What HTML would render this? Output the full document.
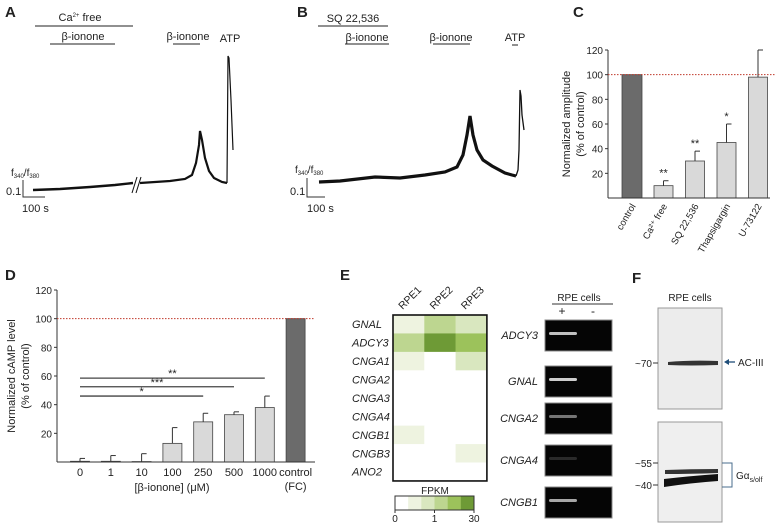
<!DOCTYPE html>
<html><head><meta charset="utf-8"><style>
body{margin:0;background:#fff}
svg{display:block;font-family:"Liberation Sans",sans-serif;fill:#222}
.it{font-style:italic}
</style></head><body>
<svg id="fig" width="775" height="525" viewBox="0 0 775 525">
<!-- Panel A -->
<g font-size="11">
<text x="5" y="17" font-size="15" font-weight="bold">A</text>
<text x="80" y="21" text-anchor="middle">Ca<tspan font-size="6" dy="-4">2+</tspan><tspan dy="4"> free</tspan></text>
<line x1="35" y1="26" x2="133" y2="26" stroke="#222"/>
<text x="83" y="40" text-anchor="middle">β-ionone</text>
<line x1="50" y1="44" x2="115" y2="44" stroke="#222"/>
<text x="188" y="40" text-anchor="middle">β-ionone</text>
<line x1="173" y1="44" x2="200" y2="44" stroke="#222"/>
<text x="230" y="42" text-anchor="middle">ATP</text>
<polyline fill="none" stroke="#111" stroke-width="2.4" points="33,190 60,189 90,187 115,185 133,183"/>
<polyline fill="none" stroke="#111" stroke-width="2.2" points="140,183 170,181 185,179 192,175 196,163 199,145 200,131 202,140 205,158 209,171 214,178 222,182 227,183"/>
<polyline fill="none" stroke="#111" stroke-width="1.2" points="227,183 228,56 229,58 231,100 233,150"/>
<line x1="132" y1="193" x2="137" y2="177" stroke="#111"/>
<line x1="136" y1="193" x2="141" y2="177" stroke="#111"/>
<polyline fill="none" stroke="#333" points="23,180 23,197 45,197"/>
<text x="11" y="176" font-size="10">f<tspan font-size="6" dy="2">340</tspan><tspan dy="-2">/f</tspan><tspan font-size="6" dy="2">380</tspan></text>
<text x="6" y="195">0.1</text>
<text x="22" y="212">100 s</text>
</g>
<!-- Panel B -->
<g font-size="11">
<text x="297" y="17" font-size="15" font-weight="bold">B</text>
<text x="353" y="22" text-anchor="middle">SQ 22,536</text>
<line x1="318" y1="26" x2="388" y2="26" stroke="#222"/>
<text x="367" y="41" text-anchor="middle">β-ionone</text>
<line x1="345" y1="44" x2="389" y2="44" stroke="#222"/>
<text x="451" y="41" text-anchor="middle">β-ionone</text>
<line x1="433" y1="44" x2="470" y2="44" stroke="#222"/>
<text x="515" y="41" text-anchor="middle">ATP</text>
<line x1="512" y1="45" x2="518" y2="45" stroke="#222"/>
<polyline fill="none" stroke="#111" stroke-width="3.2" points="319,182 340,181 375,177 400,178 425,175 445,172 457,167 463,155 467,135 470,116 473,135 477,150 483,160 492,166 505,173 512,175 516,176"/>
<polyline fill="none" stroke="#111" stroke-width="1.3" points="516,176 518,170 519,150 520,90 521,96 522,115 524,130"/>
<polyline fill="none" stroke="#333" points="307,178 307,197 325,197"/>
<text x="295" y="173" font-size="10">f<tspan font-size="6" dy="2">340</tspan><tspan dy="-2">/f</tspan><tspan font-size="6" dy="2">380</tspan></text>
<text x="290" y="195">0.1</text>
<text x="307" y="212">100 s</text>
</g>
<g id="panelC" font-size="10"></g>
<g id="panelD" font-size="10"></g>
<g id="panelE" font-size="10"></g>
<!-- Panel F -->
<g font-size="10">
<text x="632" y="283" font-size="15" font-weight="bold">F</text>
<text x="690" y="301" text-anchor="middle">RPE cells</text>
<rect x="658" y="308" width="64" height="101" fill="#ececec" stroke="#999"/>
<path d="M668,362 Q690,360 718,361 L718,365 Q690,366 668,365Z" fill="#333"/>
<rect x="658" y="422" width="64" height="100" fill="#efefef" stroke="#999"/>
<path d="M665,470 Q690,469 718,469 L718,473 Q690,474 665,474Z" fill="#333"/>
<path d="M664,479 Q690,476 718,474 L718,481 Q690,483 664,487Z" fill="#111"/>
<text x="652" y="367" text-anchor="end">~70</text>
<line x1="653" y1="363" x2="658" y2="363" stroke="#333"/>
<text x="652" y="467" text-anchor="end">~55</text>
<line x1="653" y1="463" x2="658" y2="463" stroke="#333"/>
<text x="652" y="489" text-anchor="end">~40</text>
<line x1="653" y1="485" x2="658" y2="485" stroke="#333"/>
<line x1="726" y1="362" x2="735" y2="362" stroke="#1f4e79" stroke-width="1.3"/>
<path d="M724,362 L729,359 L729,365Z" fill="#1f4e79"/>
<text x="738" y="366">AC-III</text>
<polyline points="722,463 732,463 732,487 722,487" fill="none" stroke="#4a6d8c"/>
<text x="736" y="479">Gα<tspan font-size="7" dy="3">s/olf</tspan></text>
</g>
<script>
const NS="http://www.w3.org/2000/svg";
function mk(p,tag,at,txt){const e=document.createElementNS(NS,tag);for(const k in at)e.setAttribute(k,at[k]);if(txt!==undefined)e.textContent=txt;p.appendChild(e);return e;}
// ---- Panel C data
const cCats=["control","Ca²⁺ free","SQ 22,536","Thapsigargin","U-73122"];
const cVals=[100,10,30,45,98];
const cErr=[0,4,8,15,22];
const cSig=["","**","**","*",""];
const cTicks=[20,40,60,80,100,120];
// ---- Panel D data
const dCats=["0","1","10","100","250","500","1000","control"];
const dVals=[0.5,0.5,0.3,13,28,33,38,100];
const dErr=[2,4,5.5,11,6,2,8,0];
const dTicks=[20,40,60,80,100,120];
// ---- Panel E data
const eGenes=["GNAL","ADCY3","CNGA1","CNGA2","CNGA3","CNGA4","CNGB1","CNGB3","ANO2"];
const eSamples=["RPE1","RPE2","RPE3"];
const eLevels=[[1,3,2],[3,5,4],[1,0,2],[0,0,0],[0,0,0],[0,0,0],[1,0,0],[0,0,1],[0,0,0]];
const ePcrGenes=["ADCY3","GNAL","CNGA2","CNGA4","CNGB1"];
const ePcrIntensity=[0.75,0.8,0.45,0.15,0.65];
const palette=["#ffffff","#eef3e0","#d9e7bf","#bdd690","#9cc25b","#6e9a36"];

// Panel C
(function(){
 const g=document.getElementById('panelC');
 const x0=608,x1=775,yb=198,yt=50,vmax=120;
 const y=v=>yb-(v/vmax)*(yb-yt);
 const xc=i=>632+i*31.5;
 let t=mk(g,'text',{x:573,y:17,'font-size':15,'font-weight':'bold'},'C');
 
 
 cVals.forEach((v,i)=>{
  const bw=i==0?20:19;
  const r=mk(g,'rect',{x:xc(i)-bw/2,y:y(v),width:bw,height:yb-y(v),fill:i==0?'#6b6b6b':'#d9d9d9',stroke:'#444','stroke-width':0.8});
  
  
  if(cErr[i]>0){
   mk(g,'line',{x1:xc(i),x2:xc(i),y1:y(v),y2:y(v+cErr[i]),stroke:'#333'});
   mk(g,'line',{x1:xc(i),x2:xc(i)+5,y1:y(v+cErr[i]),y2:y(v+cErr[i]),stroke:'#333'});
  }
  if(cSig[i]){const s=mk(g,'text',{x:xc(i),y:y(v+cErr[i])-4,'text-anchor':'middle','font-size':11},cSig[i]);
   }
  const l=mk(g,'text',{transform:`translate(${xc(i)+4},${yb+8}) rotate(-60)`,'text-anchor':'end','font-size':9.5},cCats[i]);
  
  
 });
 mk(g,'line',{x1:x0,x2:x0,y1:yt,y2:yb,stroke:'#333'});
 mk(g,'line',{x1:x0,x2:x1-5,y1:yb,y2:yb,stroke:'#333'});
 cTicks.forEach(v=>{mk(g,'line',{x1:x0-3,x2:x0,y1:y(v),y2:y(v),stroke:'#333'});
  const tt=mk(g,'text',{x:x0-5,y:y(v)+4,'text-anchor':'end'},v);
  });
 const rl=mk(g,'line',{x1:x0,x2:x1,y1:y(100),y2:y(100),stroke:'#c0392b','stroke-dasharray':'1.5,1.5'});
 
 const yl=mk(g,'text',{transform:'translate(570,124) rotate(-90)','text-anchor':'middle','font-size':11},'Normalized amplitude');
 
 mk(g,'text',{transform:'translate(584,124) rotate(-90)','text-anchor':'middle','font-size':11},'(% of control)');
})();

// Panel D
(function(){
 const g=document.getElementById('panelD');
 const x0=57,x1=315,yb=462,yt=290,vmax=120;
 const y=v=>yb-(v/vmax)*(yb-yt);
 const xc=i=>80+i*30.8;
 let t=mk(g,'text',{x:5,y:280,'font-size':15,'font-weight':'bold'},'D');
 
 dVals.forEach((v,i)=>{
  const r=mk(g,'rect',{x:xc(i)-9.5,y:y(v),width:19,height:yb-y(v),fill:i==7?'#6b6b6b':'#d9d9d9',stroke:'#444','stroke-width':0.8});
  
  
  if(dErr[i]>0){
   mk(g,'line',{x1:xc(i),x2:xc(i),y1:y(v),y2:y(v+dErr[i]),stroke:'#333'});
   mk(g,'line',{x1:xc(i),x2:xc(i)+5,y1:y(v+dErr[i]),y2:y(v+dErr[i]),stroke:'#333'});
  }
  const l=mk(g,'text',{x:xc(i),y:476,'text-anchor':'middle','font-size':11},dCats[i]);
  
 });
 mk(g,'text',{x:xc(7),y:490,'text-anchor':'middle','font-size':11},'(FC)');
 const xt=mk(g,'text',{x:172,y:491,'text-anchor':'middle','font-size':11},'[β-ionone] (μM)');
 
 mk(g,'line',{x1:x0,x2:x0,y1:yt,y2:yb,stroke:'#333'});
 mk(g,'line',{x1:x0,x2:x1,y1:yb,y2:yb,stroke:'#333'});
 dTicks.forEach(v=>{mk(g,'line',{x1:x0-3,x2:x0,y1:y(v),y2:y(v),stroke:'#333'});
  const tt=mk(g,'text',{x:x0-5,y:y(v)+4,'text-anchor':'end'},v);
  });
 const rl=mk(g,'line',{x1:x0,x2:x1,y1:y(100),y2:y(100),stroke:'#c0392b','stroke-dasharray':'1.5,1.5'});
 
 [[6,'**',58.5],[5,'***',52.5],[4,'*',46]].forEach(([j,s,lv])=>{
  const ln=mk(g,'line',{x1:xc(0),x2:xc(j),y1:y(lv),y2:y(lv),stroke:'#444','stroke-width':1.3});
  
  mk(g,'text',{x:(xc(0)+xc(j))/2,y:y(lv)-1,'text-anchor':'middle','font-size':11},s);
 });
 const yl=mk(g,'text',{transform:'translate(15,376) rotate(-90)','text-anchor':'middle','font-size':11},'Normalized  cAMP level');
 
 mk(g,'text',{transform:'translate(29,376) rotate(-90)','text-anchor':'middle','font-size':11},'(% of control)');
})();

// Panel E
(function(){
 const g=document.getElementById('panelE');
 let t=mk(g,'text',{x:340,y:280,'font-size':15,'font-weight':'bold'},'E');
 
 const hx=393,hy=315,cw=31.3,rh=18.44;
 eLevels.forEach((row,r)=>{
  row.forEach((lv,c)=>{
   const cell=mk(g,'rect',{x:hx+c*cw,y:hy+r*rh,width:cw+0.3,height:rh+0.3,fill:palette[lv]});
   
   
  });
  const l=mk(g,'text',{x:352,y:hy+r*rh+rh/2+4,'class':'it','font-size':11},eGenes[r]);
  
 });
 mk(g,'rect',{x:hx,y:hy,width:cw*3,height:rh*9,fill:'none',stroke:'#111','stroke-width':1.6});
 eSamples.forEach((s,c)=>{
  const l=mk(g,'text',{transform:`translate(${hx+c*cw+cw/2-6},${hy-5}) rotate(-45)`,'font-size':10.5},s);
  
 });
 // legend
 const lx=395,lw=79;
 for(let i=0;i<6;i++){mk(g,'rect',{x:lx+i*lw/6,y:496,width:lw/6+0.3,height:14,fill:palette[i]});}
 const lb=mk(g,'rect',{x:lx,y:496,width:lw,height:14,fill:'none',stroke:'#333'});
 
 mk(g,'text',{x:435,y:494,'text-anchor':'middle'},'FPKM');
 [['0',lx],['1',lx+lw/2],['30',lx+lw]].forEach(([s,xx])=>{mk(g,'line',{x1:xx,x2:xx,y1:510,y2:513,stroke:'#333'});
  mk(g,'text',{x:xx,y:522,'text-anchor':'middle'},s);});
 // PCR gels
 mk(g,'text',{x:579,y:301,'text-anchor':'middle'},'RPE cells');
 mk(g,'line',{x1:552,x2:613,y1:304,y2:304,stroke:'#333'});
 mk(g,'text',{x:562,y:315,'text-anchor':'middle','font-size':12},'+');
 mk(g,'text',{x:593,y:315,'text-anchor':'middle','font-size':12},'-');
 const gy=[320,366,403,445,487];
 ePcrGenes.forEach((gn,i)=>{
  const r=mk(g,'rect',{x:545,y:gy[i],width:67,height:31,fill:'#050505',stroke:'#888'});
  
  const b=mk(g,'rect',{x:549,y:gy[i]+12,width:28,height:3,rx:1.5,fill:'#fff','opacity':ePcrIntensity[i]});
  
  const l=mk(g,'text',{x:538,y:gy[i]+19,'text-anchor':'end','class':'it','font-size':11},gn);
  
 });
})();
</script>
</svg>
</body></html>
